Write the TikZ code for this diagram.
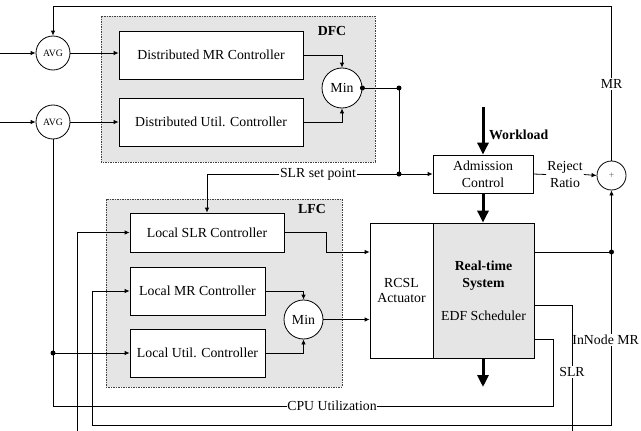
\documentclass[tikz,border=0pt]{standalone}
\usepackage{fontspec}
\setmainfont{Liberation Serif}
\usetikzlibrary{arrows.meta,calc}
\tikzset{
  ln/.style={line width=0.8pt},
  arr/.style={line width=0.8pt,-{Latex[length=5pt 0,width=4.5pt 0]}},
  fat/.style={line width=3pt,-{Triangle[length=12pt 0,width=11pt 0]}},
  box/.style={draw,line width=0.8pt,fill=white,inner sep=0pt,align=center},
  circ/.style={draw,circle,line width=0.8pt,fill=white,inner sep=0pt},
  region/.style={draw=black!75,fill=gray!20,line width=0.6pt,dash pattern=on 2pt off 1.2pt on 0.6pt off 1.2pt},
  dot/.style={circle,fill=black,inner sep=0pt,minimum size=5pt},
  lbl/.style={inner sep=1pt,align=center},
  nf/.style={font=\fontsize{13.8}{17}\selectfont},
  bf/.style={font=\fontsize{13.8}{17}\selectfont\bfseries},
  sf/.style={font=\fontsize{9.7}{11}\selectfont}
}
\begin{document}
\begin{tikzpicture}[x=1pt,y=-1pt,every node/.style={nf}]
\useasboundingbox (0,0) rectangle (641,431);
% regions
\draw[region] (101,16) rectangle (375,162);
\draw[region] (106,199) rectangle (342,387);
% nodes
\node[bf] (dfc) at (332,31) {DFC};
\node[bf] (lfc) at (312,209) {LFC};
\node[circ,sf,minimum size=34pt] (avg1) at (53,53) {AVG};
\node[circ,sf,minimum size=34pt] (avg2) at (53,122) {AVG};
\node[box,minimum width=184pt,minimum height=48pt] (dmr) at (211,55) {Distributed MR Controller};
\node[box,minimum width=184pt,minimum height=48pt] (dutil) at (211,122) {Distributed Util. Controller};
\node[circ,minimum size=40pt] (dmin) at (342,88) {Min};
\node[box,minimum width=154pt,minimum height=39pt] (lslr) at (207,232.5) {Local SLR Controller};
\node[box,minimum width=135pt,minimum height=48pt] (lmr) at (197.5,291) {Local MR Controller};
\node[box,minimum width=135pt,minimum height=48pt] (lutil) at (197.5,353) {Local Util. Controller};
\node[circ,minimum size=39pt] (lmin) at (303.5,319.5) {Min};
\node[box,minimum width=63pt,minimum height=135pt] (rcsl) at (401.5,290.5) {RCSL\\[-2pt]Actuator};
\node[box,fill=gray!20,minimum width=101pt,minimum height=135pt] (rts) at (483.5,290.5) {\textbf{Real-time}\\\textbf{System}\\[16pt]EDF Scheduler};
\node[box,minimum width=100pt,minimum height=38pt] (adm) at (483,174) {Admission\\Control};
\node[circ,sf,minimum size=29pt,text=black!60] (plus) at (611.5,175.5) {+};
% labels
\node[lbl,inner sep=0.5pt] (slrsp) at (318,174) {SLR set point};
\node[lbl,bf,anchor=west] (work) at (488,135) {Workload};
\node[lbl] (rr) at (565,174.5) {Reject\\Ratio};
\node[lbl] (mr) at (611.5,84) {MR};
\node[lbl,anchor=east] (innode) at (640,340) {InNode MR};
\node[lbl] (slrl) at (572,372) {SLR};
\node[lbl,inner sep=0.5pt] (cpu) at (332,406) {CPU Utilization};
% coordinates
\coordinate (in1) at (0,53);
\coordinate (in2) at (0,122);
\coordinate (j1) at (399,88);
\coordinate (j2) at (399,174);
\coordinate (wl) at (483,107);
\coordinate (out) at (483,387);
\coordinate (tr) at (611.5,6);
\coordinate (tl) at (53,6);
\coordinate (j3) at (611.5,252);
\coordinate (ib) at (611.5,425);
\coordinate (ibl) at (92,425);
\coordinate (s1) at (572,305);
\coordinate (s2) at (572,431);
\coordinate (s3) at (77,431);
\coordinate (c1) at (553,339);
\coordinate (c2) at (553,406);
\coordinate (c3) at (53,406);
\coordinate (j4) at (53,353);
\coordinate (l1) at (326,232.5);
\coordinate (l2) at (326,252);
% connectors
\draw[arr] (in1) -- (avg1.west);
\draw[arr] (in2) -- (avg2.west);
\draw[arr] (avg1.east) -- (avg1.east -| dmr.west);
\draw[arr] (avg2.east) -- (dutil.west);
\draw[arr] (dmr.east) -| (dmin.north);
\draw[arr] (dutil.east) -| (dmin.south);
\draw[ln] (dmin.east) -- (j1) -- (j2);
\draw[arr] (j2) -- (adm.west);
\draw[ln] (j2) -- (slrsp.east);
\draw[arr] (slrsp.west) -| (lslr.north);
\draw[fat] (wl) -- (adm.north);
\draw[fat] (adm.south) -- (adm.south |- rts.north);
\draw[fat] (adm.south |- rts.south) -- (out);
\draw[ln] (adm.east) -- (rr.west);
\draw[arr] (rr.east) -- (plus.west);
\draw[ln] (plus.north) -- (mr.south);
\draw[arr] (mr.north) -- (tr) -- (tl) -- (avg1.north);
\draw[ln] (rts.east |- j3) -- (j3);
\draw[arr] (j3) -- (plus.south);
\draw[ln] (j3) -- (j3 |- innode.north);
\draw[arr] (ib |- innode.south) -- (ib) -- (ibl) |- (lmr.west);
\draw[ln] (rts.east |- s1) -- (s1) -- (slrl.north);
\draw[ln] (slrl.south) -- (s2);
\draw[arr] (s3) |- (lslr.west);
\draw[ln] (rts.east |- c1) -- (c1) -- (c2) -- (cpu.east);
\draw[ln] (cpu.west) -- (c3) -- (avg2.south);
\draw[arr] (j4) -- (lutil.west);
\draw[ln] (lslr.east) -- (l1) -- (l2);
\draw[arr] (l2) -- (l2 -| rcsl.west);
\draw[arr] (lmr.east) -| (lmin.north);
\draw[arr] (lutil.east) -| (lmin.south);
\draw[arr] (lmin.east) -- (lmin.east -| rcsl.west);
% dots
\node[dot] (d1) at (dmin.east) {};
\node[dot] (d2) at (j1) {};
\node[dot] (d3) at (j2) {};
\node[dot] (d4) at (j3) {};
\node[dot] (d5) at (j4) {};
\end{tikzpicture}
\end{document}
